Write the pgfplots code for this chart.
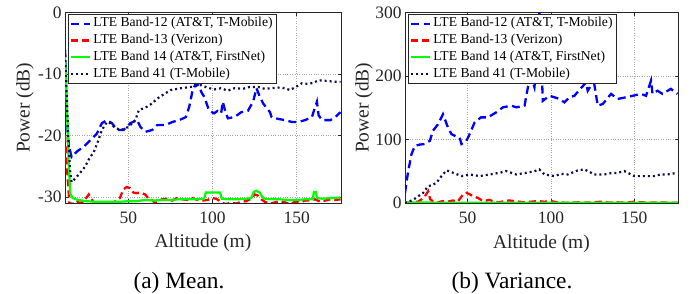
\documentclass[border=0pt]{standalone}
\usepackage{fontspec}
\setmainfont{Liberation Serif}
\usepackage{pgfplots}
\pgfplotsset{compat=1.18}

\definecolor{bnavy}{rgb}{0.05,0.05,0.30}
\definecolor{axgray}{rgb}{0.15,0.15,0.15}

\pgfplotsset{
  legend image code/.code={\draw[#1] (0bp,0bp) -- (19bp,0bp);},
  mystyle/.style={
    scale only axis,
    xmin=12.4, xmax=176.3,
    xtick={50,100,150},
    tick align=inside, tick pos=both,
    major tick length=3.5bp,
    axis line style={axgray, line width=0.6bp},
    every tick/.style={axgray, line width=0.6bp},
    grid=major,
    major grid style={dotted, gray!70, line width=0.6bp},
    tick label style={font=\fontsize{17.5}{20}\selectfont, text=axgray},
    xticklabel style={yshift=-5bp},
    /pgf/number format/assume math mode=true,
    label style={font=\fontsize{19.5}{22}\selectfont, text=axgray},
    xlabel={Altitude (m)},
    ylabel={Power (dB)},
    xlabel style={at={(axis description cs:0.5,0)}, anchor=base, yshift=-45bp},
    legend cell align=left,
    legend style={font=\fontsize{13.7}{16}\selectfont, draw=axgray, line width=0.6bp,
      fill=white, at={(rel axis cs:0.012,0.995)}, anchor=north west,
      inner sep=1.5bp, row sep=0bp,
      nodes={text height=9.5bp, text depth=3.2bp, inner ysep=2bp, inner xsep=2bp}},
  },
  b12/.style={blue, line width=2.3bp, dash pattern=on 8bp off 4.5bp},
  b13/.style={red, line width=2.3bp, dash pattern=on 7bp off 4bp},
  b14/.style={green, line width=2.2bp},
  b41/.style={bnavy, line width=2.2bp, dash pattern=on 2bp off 3bp},
}

\begin{document}
\begin{tikzpicture}
\path[use as bounding box] (0,0) rectangle (697bp,294bp);

\begin{axis}[mystyle, at={(65bp,91bp)}, anchor=south west,
  width=276bp, height=190.3bp,
  ymin=-31, ymax=0, ytick={-30,-20,-10,0},
  ylabel style={at={(axis description cs:-0.145,0.5)}, anchor=center}]
\addplot[b12] coordinates {(12.4,-6) (13,-12) (13.5,-17) (14,-20) (15,-22) (16.3,-23.5) (18,-23) (20,-22.5) (23.3,-21.9) (27.3,-20.8) (31.3,-19.7) (34.3,-18) (37.3,-17.5) (40.3,-18) (43.3,-19.1) (47.2,-19.1) (51.2,-18) (55.2,-17.5) (57.2,-18.6) (60.2,-19.4) (64.2,-19.1) (67.2,-18.3) (72.2,-18.3) (76.2,-17.8) (80.2,-17.5) (84.2,-17) (86.2,-15.3) (88.2,-12.6) (90.1,-11.5) (92,-12) (93.5,-13) (95.1,-13.7) (97.9,-15.9) (100.9,-16.4) (103,-16) (105.1,-16.4) (106.1,-14.5) (107.5,-16) (109.1,-17.2) (113.1,-17) (117.1,-16.2) (121,-16) (124.1,-14.5) (126.1,-12.3) (128.1,-13.7) (130.1,-14.8) (134.1,-16.2) (135.1,-17) (139,-17.3) (143,-17.5) (147.1,-17.8) (151,-17.8) (155,-17.5) (159,-17) (162,-14.5) (163,-16.7) (165,-17.5) (170,-17.5) (173,-17) (176,-16.2)};
\addlegendentry{LTE Band-12 (AT\&T, T-Mobile)}
\addplot[b13] coordinates {(12.4,-20) (13.5,-25) (15,-31) (17,-31.2) (19,-30.6) (21,-31) (23,-30.8) (25,-30.2) (26.5,-29.6) (28,-30.3) (30,-31.1) (33,-30.8) (36,-31.2) (38,-30.9) (40,-31.1) (43,-30.6) (45,-30.2) (47,-28.8) (49,-28.4) (51,-28.6) (53,-29.3) (55,-29.4) (57,-29.3) (60,-29.6) (62,-30.3) (64,-30.5) (66,-31) (68,-30.7) (70,-30.4) (73,-30.3) (76,-30.6) (79,-30.2) (82,-30.4) (85,-30.5) (88,-30.2) (91,-30.5) (94,-30.6) (97,-30.5) (100,-30.2) (102,-30.3) (104,-30.6) (106,-31) (108,-31.2) (111,-30.9) (114,-31.1) (117,-30.8) (120,-30.7) (123,-30.3) (125,-29.6) (127,-29.8) (129,-30.4) (131,-30.8) (134,-31.1) (137,-30.9) (140,-30.7) (143,-30.9) (146,-31.2) (149,-30.8) (152,-30.9) (155,-30.6) (158,-30.6) (161,-30.4) (164,-30.8) (167,-30.6) (170,-30.4) (173,-30.5) (176,-30.4)};
\addlegendentry{LTE Band-13 (Verizon)}
\addplot[b14] coordinates {(12.4,-7) (13.5,-15) (14.5,-24) (15.5,-29.5) (17,-30.2) (20,-30.5) (25,-30.7) (30,-30.8) (35,-30.8) (40,-30.8) (45,-30.8) (50,-30.7) (55,-30.7) (60,-30.5) (65,-30.6) (70,-30.5) (75,-30.5) (80,-30.4) (85,-30.4) (90,-30.4) (95,-30.3) (96,-29.3) (104.5,-29.3) (105.5,-30.3) (110,-30.4) (115,-30.4) (120,-30.3) (123,-30.2) (124.5,-29.2) (126,-29.0) (128,-29.3) (129.5,-30.0) (131,-30.3) (135,-30.4) (140,-30.4) (145,-30.5) (150,-30.5) (155,-30.4) (159.5,-30.4) (160.2,-29.2) (161.3,-29.2) (162,-30.2) (165,-30.3) (170,-30.2) (176,-30.1)};
\addlegendentry{LTE Band 14 (AT\&T, FirstNet)}
\addplot[b41] coordinates {(12.4,-6.1) (13.5,-14) (14.5,-21) (15.5,-26) (16.3,-27.6) (18.5,-27) (21.3,-26.1) (24.3,-25.1) (27.3,-23.5) (29.2,-22.9) (32.2,-20.8) (34.3,-19.1) (37.3,-17.8) (39.2,-18) (42,-18.7) (45.2,-19.1) (48.2,-18.9) (51.2,-18.3) (54.2,-17.5) (56.2,-15.9) (61.2,-15.3) (64,-14.8) (67.2,-14) (71,-13.3) (75.2,-12.6) (81.2,-12.3) (87.2,-12.1) (93.1,-11.8) (97,-12.2) (101,-12.5) (105,-12.3) (109,-12.7) (113,-12.3) (118,-12.4) (122,-12.1) (127.1,-12.1) (131,-12.4) (135,-12.3) (139,-12.2) (142.8,-12.3) (146,-12.6) (150,-12) (153,-11.5) (157,-11.6) (160,-11.4) (163,-11.0) (167,-11.1) (171,-11.2) (176,-11.3)};
\addlegendentry{LTE Band 41 (T-Mobile)}
\end{axis}

\begin{axis}[mystyle, at={(405bp,91bp)}, anchor=south west,
  width=273bp, height=190.3bp,
  ymin=0, ymax=300, ytick={0,100,200,300},
  ylabel style={at={(axis description cs:-0.150,0.5)}, anchor=center}]
\addplot[b12] coordinates {(12.4,16) (14.3,50) (16.3,77) (18.3,90) (21,92) (24.3,93) (27.3,98) (29.2,114) (32.2,124) (35.2,140) (38.2,119) (40.3,108.6) (43,105) (45.2,103) (46.3,93) (49.3,98) (51.2,108.6) (54.2,127) (58,135) (62.2,135) (67.2,143) (71.2,150.8) (76.2,153.5) (79.2,150.8) (84.2,153.5) (85.2,169) (86.2,182.5) (88.2,198) (90.1,182.5) (92,235) (93.1,300) (94.2,235) (95.1,161) (99.1,169) (102.1,166.7) (105.1,164) (108.1,158.7) (111.1,166.7) (114.1,169) (117,178) (121.1,190) (122.1,177) (124,185) (126,188) (128.1,153.5) (131.1,156) (136.1,172) (140.1,164) (145.1,166.7) (149.1,169) (154.1,172) (157.1,169) (160.1,193) (161,172) (164,177) (167,172) (172,180) (176,172)};
\addlegendentry{LTE Band-12 (AT\&T, T-Mobile)}
\addplot[b13] coordinates {(12.4,0) (16,1) (20,2) (22,5) (24.3,10.6) (26.3,18.6) (27.5,6) (29,3) (32,1) (35,3) (38,2) (41,4) (44,2) (47.2,13.3) (49.3,16) (51,14) (53,11) (56.2,8) (58,5) (60,3) (63,5) (66,2) (69,1) (72,3) (75,4) (78,3) (81,2) (84,1) (88,2) (92,3) (96,2) (100,3) (104,1) (108,0.5) (112,0.5) (116,1) (120,0.5) (125,1) (130,2) (135,0.5) (140,1) (145,0.5) (150,2) (155,1) (160,0.5) (165,1) (170,0.5) (176,0.5)};
\addlegendentry{LTE Band-13 (Verizon)}
\addplot[b14] coordinates {(12.4,1) (20,0.8) (30,0.6) (40,0.6) (50,0.5) (60,0.5) (70,0.5) (80,0.5) (90,0.5) (100,0.6) (110,0.5) (120,0.5) (130,0.6) (140,0.5) (150,0.5) (160,0.6) (170,0.5) (176,0.5)};
\addlegendentry{LTE Band 14 (AT\&T, FirstNet)}
\addplot[b41] coordinates {(12.4,0) (17.3,5) (20,10) (23.3,16) (26.3,26.5) (28.5,28) (31.3,31.7) (34.3,42.4) (37.3,51.4) (41.3,47.6) (46.3,42.4) (51.2,45) (57.2,42.4) (63.2,45) (69.2,47.6) (73.2,50.3) (79.2,45) (85.2,47.6) (90.1,50) (93,53) (96.1,45) (102.1,42.4) (106,46) (110.1,45) (116.1,51.4) (120.1,53) (126.1,45) (132.1,45) (136,47) (140.1,47.6) (144.1,50.3) (150.1,42.4) (156.1,42.4) (162,42.4) (166,45) (170,45) (176,47.6)};
\addlegendentry{LTE Band 41 (T-Mobile)}
\end{axis}

\node[anchor=base, font=\fontsize{23.5}{26}\selectfont] at (179bp,5.5bp) {(a) Mean.};
\node[anchor=base, font=\fontsize{23.5}{26}\selectfont] at (512bp,5.5bp) {(b) Variance.};
\end{tikzpicture}
\end{document}
